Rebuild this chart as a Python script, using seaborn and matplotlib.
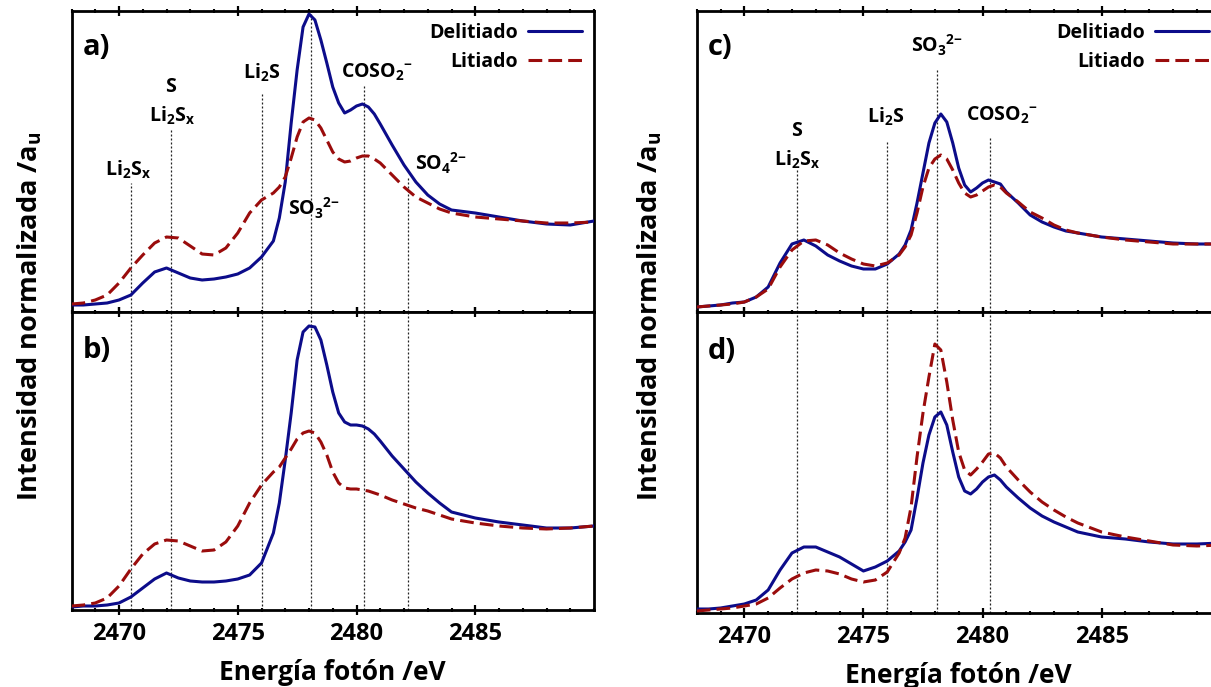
import numpy as np
import pandas as pd
import matplotlib
matplotlib.use("Agg")
import matplotlib.pyplot as plt
import seaborn as sns
from matplotlib.ticker import MultipleLocator
from matplotlib.lines import Line2D

# ---------------- data (S K-edge XANES, normalised intensity, a.u.) ----------------
energia = [2468, 2468.5, 2469, 2469.5, 2470, 2470.5, 2471, 2471.5, 2472, 2472.5,
           2473, 2473.5, 2474, 2474.5, 2475, 2475.5, 2476, 2476.5, 2476.75, 2477,
           2477.25, 2477.5, 2477.75, 2478, 2478.25, 2478.5, 2478.75, 2479, 2479.25, 2479.5,
           2479.75, 2480, 2480.25, 2480.5, 2480.75, 2481, 2481.5, 2482, 2482.5, 2483,
           2483.5, 2484, 2485, 2486, 2487, 2488, 2489, 2490]

a_delitiado = [0.00, 0.00, 0.01, 0.02, 0.05, 0.10, 0.22, 0.33, 0.37, 0.32,
               0.27, 0.25, 0.26, 0.28, 0.31, 0.37, 0.48, 0.64, 0.87, 1.23,
               1.82, 2.35, 2.78, 2.91, 2.85, 2.65, 2.42, 2.18, 2.02, 1.92,
               1.95, 1.99, 2.01, 1.98, 1.91, 1.81, 1.60, 1.40, 1.23, 1.10,
               1.01, 0.95, 0.92, 0.88, 0.84, 0.81, 0.80, 0.84]
a_litiado = [0.01, 0.02, 0.05, 0.10, 0.22, 0.37, 0.50, 0.62, 0.68, 0.67,
             0.59, 0.51, 0.50, 0.57, 0.72, 0.92, 1.05, 1.12, 1.18, 1.28,
             1.47, 1.68, 1.83, 1.87, 1.85, 1.77, 1.65, 1.53, 1.46, 1.43,
             1.44, 1.47, 1.49, 1.49, 1.46, 1.42, 1.30, 1.18, 1.08, 1.02,
             0.96, 0.92, 0.88, 0.86, 0.84, 0.82, 0.82, 0.83]

b_delitiado = [0.00, 0.01, 0.01, 0.02, 0.04, 0.10, 0.19, 0.28, 0.34, 0.29,
               0.26, 0.25, 0.25, 0.26, 0.28, 0.32, 0.44, 0.74, 1.04, 1.47,
               1.94, 2.47, 2.75, 2.81, 2.80, 2.67, 2.42, 2.15, 1.94, 1.85,
               1.82, 1.82, 1.81, 1.78, 1.73, 1.66, 1.51, 1.38, 1.25, 1.14,
               1.04, 0.95, 0.89, 0.85, 0.82, 0.79, 0.79, 0.81]
b_litiado = [0.01, 0.02, 0.04, 0.09, 0.21, 0.38, 0.53, 0.63, 0.67, 0.66,
             0.61, 0.56, 0.57, 0.65, 0.81, 1.04, 1.22, 1.35, 1.40, 1.49,
             1.58, 1.68, 1.74, 1.76, 1.74, 1.65, 1.52, 1.35, 1.24, 1.19,
             1.18, 1.18, 1.17, 1.16, 1.14, 1.12, 1.07, 1.03, 0.99, 0.96,
             0.92, 0.88, 0.84, 0.81, 0.79, 0.78, 0.79, 0.81]

c_delitiado = [0.00, 0.01, 0.02, 0.04, 0.05, 0.10, 0.20, 0.44, 0.63, 0.67,
               0.61, 0.52, 0.46, 0.41, 0.38, 0.38, 0.43, 0.53, 0.62, 0.77,
               1.04, 1.34, 1.64, 1.84, 1.93, 1.85, 1.64, 1.39, 1.22, 1.15,
               1.19, 1.24, 1.27, 1.25, 1.23, 1.15, 1.04, 0.92, 0.85, 0.80,
               0.76, 0.74, 0.70, 0.68, 0.66, 0.64, 0.63, 0.63]
c_litiado = [0.00, 0.01, 0.02, 0.03, 0.05, 0.10, 0.18, 0.40, 0.57, 0.66,
             0.67, 0.62, 0.54, 0.48, 0.43, 0.41, 0.44, 0.52, 0.60, 0.72,
             0.94, 1.20, 1.39, 1.48, 1.52, 1.48, 1.37, 1.24, 1.14, 1.10,
             1.12, 1.16, 1.20, 1.22, 1.20, 1.14, 1.05, 0.95, 0.89, 0.82,
             0.77, 0.74, 0.70, 0.67, 0.65, 0.63, 0.63, 0.63]

d_delitiado = [0.01, 0.01, 0.02, 0.04, 0.06, 0.10, 0.20, 0.40, 0.57, 0.63,
               0.63, 0.58, 0.53, 0.46, 0.39, 0.43, 0.49, 0.59, 0.68, 0.80,
               1.12, 1.47, 1.75, 1.93, 1.98, 1.85, 1.58, 1.33, 1.19, 1.16,
               1.21, 1.28, 1.33, 1.35, 1.30, 1.23, 1.12, 1.02, 0.94, 0.88,
               0.83, 0.78, 0.73, 0.71, 0.68, 0.66, 0.66, 0.67]
d_litiado = [-0.01, 0.00, 0.01, 0.02, 0.04, 0.06, 0.12, 0.22, 0.31, 0.37,
             0.40, 0.39, 0.36, 0.31, 0.28, 0.30, 0.38, 0.57, 0.72, 1.03,
             1.53, 1.97, 2.33, 2.66, 2.60, 2.28, 1.90, 1.58, 1.40, 1.35,
             1.41, 1.48, 1.56, 1.57, 1.52, 1.43, 1.30, 1.18, 1.08, 1.00,
             0.93, 0.87, 0.78, 0.73, 0.69, 0.65, 0.64, 0.65]

muestras = ["Delitiado", "Litiado"]
xticks = [2470, 2475, 2480, 2485]

# reference features (energy) and where the guide line starts in the upper panels
feat_izq_e = [2470.5, 2472.2, 2476.0, 2478.1, 2480.3, 2482.15]
feat_izq_top = [1.22, 1.75, 2.13, 2.935, 2.19, 1.27]
feat_der_e = [2472.2, 2476.0, 2478.1, 2480.3]
feat_der_top = [1.37, 1.65, 2.37, 1.70]

etiquetas_a = [(2470.37, 1.35, r"Li$_2$S$_x$"), (2472.18, 2.18, "S"),
               (2472.22, 1.89, r"Li$_2$S$_x$"), (2476.0, 2.32, r"Li$_2$S"),
               (2478.19, 0.97, r"SO$_3$$^{2{-}}$"), (2480.85, 2.33, r"COSO$_2$$^{{-}}$"),
               (2483.55, 1.42, r"SO$_4$$^{2{-}}$")]
etiquetas_c = [(2472.17, 1.76, "S"), (2472.2, 1.47, r"Li$_2$S$_x$"),
               (2475.95, 1.90, r"Li$_2$S"), (2478.09, 2.62, r"SO$_3$$^{2{-}}$"),
               (2480.82, 1.92, r"COSO$_2$$^{{-}}$")]

# ---------------- style ----------------
sns.set_theme(style="white")
plt.rcParams["font.family"] = ["Open Sans", "DejaVu Sans"]
plt.rcParams["font.weight"] = "bold"
plt.rcParams["text.color"] = "black"
plt.rcParams["axes.labelcolor"] = "black"
plt.rcParams["xtick.color"] = "black"
plt.rcParams["mathtext.fontset"] = "custom"
plt.rcParams["mathtext.rm"] = "Open Sans:bold"
plt.rcParams["mathtext.bf"] = "Open Sans:bold"
plt.rcParams["mathtext.it"] = "Open Sans:bold"
plt.rcParams["mathtext.default"] = "bf"

AZUL = "#0c0c8a"
ROJO = "#9a0c0c"
DASH = (4.5, 2.0)
LW = 2.2

W, H = 1211, 687
fig = plt.figure(figsize=(W / 100, H / 100), dpi=100)


def add_ax(x0, x1, ytop, ybot):
    return fig.add_axes([x0 / W, 1 - ybot / H, (x1 - x0) / W, (ybot - ytop) / H])


ax_a = add_ax(71.5, 594, 11.5, 312)
ax_b = add_ax(71.5, 594, 312, 610)
ax_c = add_ax(696.7, 1220.7, 11.5, 312)
ax_d = add_ax(696.7, 1220.7, 312, 613)


def panel_df(deli, liti):
    n = len(energia)
    return pd.DataFrame({"Energía": energia * 2,
                         "Intensidad": list(deli) + list(liti),
                         "Muestra": [muestras[0]] * n + [muestras[1]] * n})


paneles = [(ax_a, a_delitiado, a_litiado, (-0.07, 2.935), "a)"),
           (ax_b, b_delitiado, b_litiado, (-0.03, 2.95), "b)"),
           (ax_c, c_delitiado, c_litiado, (-0.05, 2.955), "c)"),
           (ax_d, d_delitiado, d_litiado, (-0.03, 2.98), "d)")]

for ax, deli, liti, ylim, letra in paneles:
    ax.set_xlim(2468, 2490)
    ax.set_ylim(*ylim)
    sns.lineplot(data=panel_df(deli, liti), x="Energía", y="Intensidad",
                 hue="Muestra", style="Muestra", hue_order=muestras, style_order=muestras,
                 palette={muestras[0]: AZUL, muestras[1]: ROJO},
                 dashes={muestras[0]: "", muestras[1]: DASH},
                 linewidth=LW, estimator=None, sort=False, legend=False, ax=ax, zorder=3)
    for ln in ax.get_lines():
        ln.set_solid_joinstyle("round")
        ln.set_dash_joinstyle("round")
    ax.set_xlabel("")
    ax.set_ylabel("")
    ax.set_yticks([])
    ax.set_xticks(xticks)
    ax.xaxis.set_minor_locator(MultipleLocator(1))
    ax.tick_params(axis="x", which="both", direction="inout", top=True, bottom=True,
                   colors="black")
    ax.tick_params(axis="x", which="major", length=7.5, width=1.6, pad=5,
                   labelsize=17)
    ax.tick_params(axis="x", which="minor", length=3.5, width=1.5)
    for sp in ax.spines.values():
        sp.set_linewidth(2.0)
        sp.set_color("black")
        sp.set_visible(True)
    ax.text(0.021, 0.88 if letra in ("a)", "c)") else 0.87, letra, transform=ax.transAxes,
            fontsize=21, fontweight="bold", ha="left", va="center", color="black")

for ax in (ax_a, ax_c):
    ax.tick_params(axis="x", labelbottom=False)
for ax in (ax_b, ax_d):
    for lab in ax.get_xticklabels():
        lab.set_fontweight("bold")
        lab.set_color("black")
    ax.set_xlabel("Energía fotón /eV", fontsize=19, fontweight="bold", labelpad=9,
                  color="black")

# guide lines
guia = dict(color="#222222", lw=0.9, linestyle=(0, (1.6, 1.6)), zorder=1)
for e, top in zip(feat_izq_e, feat_izq_top):
    ax_a.vlines(e, ax_a.get_ylim()[0], top, **guia)
    ax_b.vlines(e, *ax_b.get_ylim(), **guia)
for e, top in zip(feat_der_e, feat_der_top):
    ax_c.vlines(e, ax_c.get_ylim()[0], top, **guia)
    ax_d.vlines(e, *ax_d.get_ylim(), **guia)

for x, y, t in etiquetas_a:
    ax_a.text(x, y, t, fontsize=14, fontweight="bold", ha="center", va="center",
              zorder=4, color="black")
for x, y, t in etiquetas_c:
    ax_c.text(x, y, t, fontsize=14, fontweight="bold", ha="center", va="center",
              zorder=4, color="black")

# legends
handles = [Line2D([], [], color=AZUL, lw=LW),
           Line2D([], [], color=ROJO, lw=LW, dashes=DASH)]
for ax in (ax_a, ax_c):
    leg = ax.legend(handles, muestras, loc="upper right", frameon=False, markerfirst=False,
                    handlelength=2.8, handletextpad=0.5, labelspacing=0.45,
                    borderaxespad=0.2, prop={"size": 14, "weight": "bold"})
    for t in leg.get_texts():
        t.set_color("black")

for xpix in (30, 650):
    fig.text(xpix / W, 1 - 316 / H, r"Intensidad normalizada /a$_u$", rotation=90,
             fontsize=19.5, fontweight="bold", ha="center", va="center", color="black")

fig.savefig("out.png", dpi=100)
